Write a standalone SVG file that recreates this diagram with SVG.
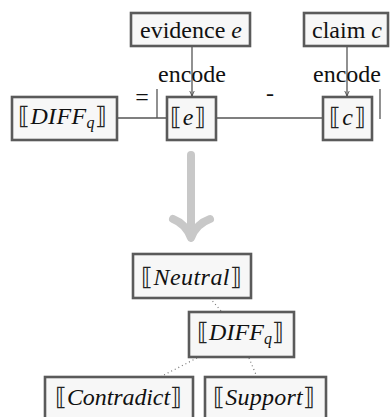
<svg xmlns="http://www.w3.org/2000/svg" width="390" height="417" viewBox="0 0 390 417">
<defs>
<style>
.box{fill:#f7f7f7;stroke:#5a5a5a;stroke-width:2.6}
.t{font-size:24px;fill:#111}
.i{font-style:italic}
.br{font-size:24px;fill:#222}
.ln{stroke:#555;stroke-width:1.3;fill:none}
.dot{stroke:#777;stroke-width:1.2;stroke-dasharray:1 3;fill:none}
</style>
<marker id="ah" viewBox="0 0 10 10" refX="9" refY="5" markerWidth="6" markerHeight="6" orient="auto" markerUnits="userSpaceOnUse">
<path d="M0,1 L9,5 L0,9" fill="none" stroke="#444" stroke-width="1.4"/>
</marker>
</defs>
<rect width="390" height="417" fill="#fff"/>
<g id="connectors" font-family="'Liberation Serif', 'Times New Roman', 'DejaVu Serif', serif">
<line class="ln" x1="192" y1="47" x2="192" y2="96" marker-end="url(#ah)"/>
<line class="ln" x1="347" y1="47" x2="347" y2="96" marker-end="url(#ah)"/>
<line class="ln" x1="117" y1="118" x2="167" y2="118"/>
<line class="ln" x1="157" y1="89" x2="157" y2="118"/>
<line class="ln" x1="216" y1="118" x2="323" y2="118"/>
<line class="ln" x1="380" y1="89" x2="380" y2="119"/>
<text class="t" x="192" y="82" text-anchor="middle">encode</text>
<text class="t" x="347" y="82" text-anchor="middle">encode</text>
<text class="t" x="142" y="105" text-anchor="middle">=</text>
<text class="t" x="270" y="101" text-anchor="middle">-</text>
<path d="M191,155 V236" stroke="#c8c8c8" stroke-width="8" stroke-linecap="round" fill="none"/>
<path d="M173,219 Q186,224 191,238 Q196,224 210,219" stroke="#c8c8c8" stroke-width="8" stroke-linecap="round" stroke-linejoin="round" fill="none"/>
<line class="dot" x1="210" y1="298" x2="221" y2="311"/>
<line class="dot" x1="197" y1="358" x2="160" y2="377"/>
<line class="dot" x1="249" y1="358" x2="257" y2="377"/>
</g>
<g font-family="'Liberation Serif', 'Times New Roman', 'DejaVu Serif', serif">
<g id="evidence">
<rect class="box" x="131" y="13" width="119" height="33"/>
<text class="t" x="191" y="38" text-anchor="middle">evidence <tspan class="i">e</tspan></text>
</g>
<g id="claim">
<rect class="box" x="304" y="13" width="84" height="33"/>
<text class="t" x="347" y="38" text-anchor="middle">claim <tspan class="i">c</tspan></text>
</g>
<g id="diffq-top">
<rect class="box" x="12" y="97" width="105" height="43"/>
<text class="t" x="18" y="124" textLength="89" lengthAdjust="spacing"><tspan class="br">⟦</tspan><tspan class="i">DIFF</tspan><tspan class="i" font-size="16" dy="4">q</tspan><tspan class="br" dy="-4">⟧</tspan></text>
</g>
<g id="enc-e">
<rect class="box" x="167" y="97" width="49" height="43"/>
<text class="t" x="170" y="125" textLength="36" lengthAdjust="spacing"><tspan class="br">⟦</tspan><tspan class="i">e</tspan><tspan class="br">⟧</tspan></text>
</g>
<g id="enc-c">
<rect class="box" x="323" y="97" width="49" height="43"/>
<text class="t" x="329" y="125" textLength="37" lengthAdjust="spacing"><tspan class="br">⟦</tspan><tspan class="i">c</tspan><tspan class="br">⟧</tspan></text>
</g>
<g id="neutral">
<rect class="box" x="133" y="254" width="118" height="44"/>
<text class="t" x="141" y="285" textLength="101" lengthAdjust="spacing"><tspan class="br">⟦</tspan><tspan class="i">Neutral</tspan><tspan class="br">⟧</tspan></text>
</g>
<g id="diffq-bottom">
<rect class="box" x="189" y="312" width="105" height="45"/>
<text class="t" x="197" y="340" textLength="87" lengthAdjust="spacing"><tspan class="br">⟦</tspan><tspan class="i">DIFF</tspan><tspan class="i" font-size="16" dy="4">q</tspan><tspan class="br" dy="-4">⟧</tspan></text>
</g>
<g id="contradict">
<rect class="box" x="45" y="377" width="148" height="44"/>
<text class="t" x="55" y="405" textLength="127" lengthAdjust="spacing"><tspan class="br">⟦</tspan><tspan class="i">Contradict</tspan><tspan class="br">⟧</tspan></text>
</g>
<g id="support">
<rect class="box" x="205" y="377" width="121" height="44"/>
<text class="t" x="213" y="405" textLength="102" lengthAdjust="spacing"><tspan class="br">⟦</tspan><tspan class="i">Support</tspan><tspan class="br">⟧</tspan></text>
</g>
</g>
</svg>
